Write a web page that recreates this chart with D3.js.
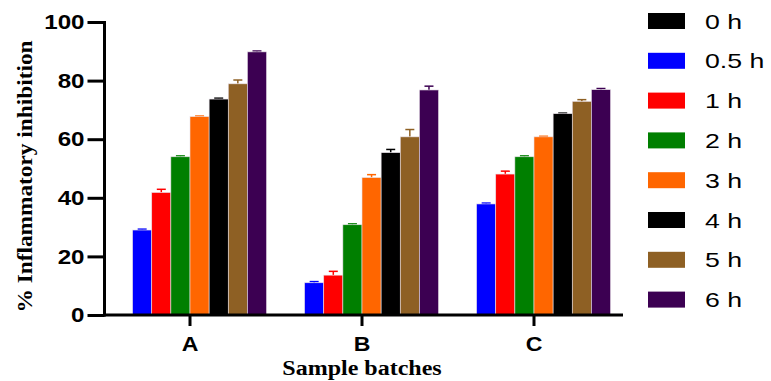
<!doctype html>
<html>
<head>
<meta charset="utf-8">
<script src="https://d3js.org/d3.v7.min.js"></script>
<style>
body { margin: 0; background: #fff; }
svg { display: block; }
</style>
</head>
<body>
<svg></svg>
<script>

// data
var batches = ["A", "B", "C"];
var times = ["0 h", "0.5 h", "1 h", "2 h", "3 h", "4 h", "5 h", "6 h"];
var colors = ["#000000", "#0000ff", "#ff0000", "#007f00", "#ff6600", "#000000", "#8e6024", "#3c0052"];
var valuesA = [0, 29.0, 41.8, 54.0, 67.7, 73.7, 78.9, 89.8];
var valuesB = [0, 11.0, 13.6, 30.8, 46.9, 55.4, 60.8, 76.8];
var valuesC = [0, 37.9, 48.1, 54.0, 60.8, 68.7, 72.9, 76.9];
var errA = [0, 0.3, 1.1, 0.3, 0.2, 0.3, 1.3, 0.3];
var errB = [0, 0.4, 1.3, 0.3, 1.0, 1.1, 2.5, 1.3];
var errC = [0, 0.3, 1.0, 0.3, 0.2, 0.2, 0.6, 0.4];
var yTicks = [0, 20, 40, 60, 80, 100];

var values = [valuesA, valuesB, valuesC];
var errs = [errA, errB, errC];

var W = 771, H = 381;
var svg = d3.select("svg").attr("width", W).attr("height", H);

// the source image is a bit wider than tall, so text looks stretched sideways
function stretch(sel, k) {
	sel.each(function() {
		var len = this.getComputedTextLength();
		d3.select(this).attr("textLength", len * k).attr("lengthAdjust", "spacingAndGlyphs");
	});
}

var x0 = d3.scaleBand().domain(batches).range([104, 620]).paddingInner(0.11).paddingOuter(0.055);
var x1 = d3.scaleBand().domain(times).range([0, x0.bandwidth()]);
var y = d3.scaleLinear().domain([0, 100]).range([315, 22]);

var groups = svg.append("g").selectAll("g")
	.data(batches)
	.enter().append("g")
	.attr("transform", b => "translate(" + x0(b) + ",0)");

groups.each(function(b, bi) {
	var g = d3.select(this);
	var rows = times.map((t, i) => ({t: t, v: values[bi][i], e: errs[bi][i], c: colors[i]}))
		.filter(d => d.v > 0);

	// error bars (upper only)
	g.selectAll("line.err").data(rows).enter().append("line")
		.attr("x1", d => x1(d.t) + x1.bandwidth() / 2)
		.attr("x2", d => x1(d.t) + x1.bandwidth() / 2)
		.attr("y1", d => y(d.v))
		.attr("y2", d => y(d.v + d.e))
		.attr("stroke", d => d.c)
		.attr("stroke-width", 1.5);
	g.selectAll("line.cap").data(rows).enter().append("line")
		.attr("x1", d => x1(d.t) + x1.bandwidth() / 2 - 4.5)
		.attr("x2", d => x1(d.t) + x1.bandwidth() / 2 + 4.5)
		.attr("y1", d => y(d.v + d.e))
		.attr("y2", d => y(d.v + d.e))
		.attr("stroke", d => d.c)
		.attr("stroke-width", 1.5);

	g.selectAll("rect").data(rows).enter().append("rect")
		.attr("x", d => x1(d.t))
		.attr("y", d => y(d.v))
		.attr("width", x1.bandwidth())
		.attr("height", d => y(0) - y(d.v))
		.attr("fill", d => d.c)
		.attr("stroke", "#e8e0e8")
		.attr("stroke-width", 0.6);
});

// y axis
var yAxis = svg.append("g")
	.attr("transform", "translate(104.5,0)")
	.call(d3.axisLeft(y).tickValues(yTicks).tickSize(17).tickPadding(3).tickSizeOuter(0));
yAxis.select(".domain").attr("stroke-width", 3).attr("d", "M0," + (y(100) - 1) + "V" + (y(0) + 1.5));
yAxis.selectAll(".tick line").attr("stroke-width", 3);
yAxis.selectAll(".tick text")
	.attr("font-family", "Liberation Sans, Arial, sans-serif")
	.attr("font-weight", "bold")
	.attr("font-size", 21)
	.attr("fill", "#000")
	.call(stretch, 1.15);

// x axis
var xAxis = svg.append("g")
	.attr("transform", "translate(0,315)")
	.call(d3.axisBottom(x0).tickSize(11).tickPadding(10).tickSizeOuter(0));
xAxis.select(".domain").attr("stroke-width", 3).attr("d", "M103,0H623");
xAxis.selectAll(".tick line").attr("stroke-width", 3);
xAxis.selectAll(".tick text")
	.attr("font-family", "Liberation Sans, Arial, sans-serif")
	.attr("font-weight", "bold")
	.attr("font-size", 21)
	.attr("fill", "#000")
	.call(stretch, 1.1);

// axis titles
svg.append("text")
	.attr("transform", "translate(31.5,176.5) rotate(-90)")
	.attr("text-anchor", "middle")
	.attr("font-family", "Liberation Serif, Times New Roman, serif")
	.attr("font-weight", "bold")
	.attr("font-size", 20)
	.attr("textLength", 272)
	.attr("lengthAdjust", "spacingAndGlyphs")
	.text("% Inflammatory inhibition");

svg.append("text")
	.attr("x", 362)
	.attr("y", 375)
	.attr("text-anchor", "middle")
	.attr("font-family", "Liberation Serif, Times New Roman, serif")
	.attr("font-weight", "bold")
	.attr("font-size", 20)
	.text("Sample batches")
	.call(stretch, 1.2);

// legend
var legend = svg.append("g").selectAll("g")
	.data(times)
	.enter().append("g")
	.attr("transform", (t, i) => "translate(648," + (21 + i * 39.8) + ")");
legend.append("rect")
	.attr("x", 0).attr("y", -8)
	.attr("width", 37).attr("height", 16)
	.attr("fill", (t, i) => colors[i]);
legend.append("text")
	.attr("x", 57)
	.attr("dy", "0.36em")
	.attr("font-family", "Liberation Sans, Arial, sans-serif")
	.attr("font-size", 21)
	.text(t => t)
	.call(stretch, 1.27);

</script>
</body>
</html>
